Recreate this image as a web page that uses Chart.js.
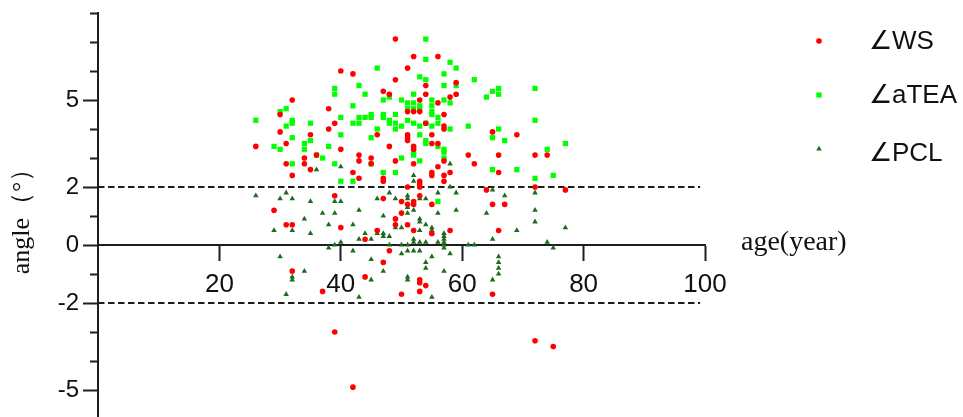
<!DOCTYPE html>
<html>
<head>
<meta charset="utf-8">
<script src="https://cdn.jsdelivr.net/npm/chart.js@4.4.0/dist/chart.umd.min.js"></script>
<style>
html,body{margin:0;padding:0;background:#ffffff;}
#wrap{width:963px;height:417px;position:relative;}
</style>
</head>
<body>
<div id="wrap"><canvas id="c" width="963" height="417"></canvas></div>
<script>
// ---------------- data ----------------
const seriesNames = ['∠WS', '∠aTEA', '∠PCL'];
const xAxisLabel = 'age(year)';
const yAxisLabel = 'angle（°）';

const wsAge = [49,40,42,49,47,48,32,30,38,39,38,46,30,35,26,31,48,40,36,34,43,45,31,34,43,45,49,35,32,42,43,47,47,
  52,56,51,59,59,54,54,53,51,52,53,56,58,57,54,57,57,51,51,51,55,65,69,52,52,55,56,52,56,57,61,62,66,72,74,55,55,57,58,66,57,53,53,51,64,72,77,
  39,47,29,31,32,40,44,46,49,49,48,32,44,37,53,50,52,52,51,55,65,67,51,52,55,58,66,50,53,53,54,53,50,65,53,47,39,42,72,75];
const wsAngle = [7.1,6.0,5.9,5.7,5.3,5.2,5.0,4.5,4.7,4.2,4.0,3.8,3.9,3.8,3.4,3.5,3.4,3.3,3.1,3.0,3.1,3.0,2.8,2.8,2.9,2.8,2.9,2.6,2.4,2.5,2.3,2.3,2.2,
  6.5,6.5,6.1,5.6,5.2,5.5,5.2,5.0,4.6,4.6,4.6,4.9,5.1,4.5,4.2,4.1,4.0,3.8,3.7,3.6,3.8,3.9,3.8,3.4,3.3,3.5,3.5,2.8,2.7,2.9,3.1,2.8,3.1,3.1,3.1,2.5,2.4,2.4,2.5,2.5,2.2,2.2,2.1,2.0,1.9,2.0,1.9,
  1.7,1.6,1.2,0.7,0.7,0.6,0.2,0.5,0.9,0.7,-0.2,-0.9,-1.1,-1.6,1.7,1.5,1.5,1.4,1.4,1.4,1.4,1.4,0.7,0.5,0.4,0.5,0.5,1.1,-1.2,-1.3,-1.4,-1.6,-1.7,-1.7,2.0,-0.6,-3.0,-4.9,-3.3,-3.5];

const ateaAge = [46,39,39,43,44,47,48,31,30,42,26,32,32,31,35,40,42,43,43,44,45,45,47,47,48,48,49,49,49,32,35,34,34,40,45,46,29,30,38,37,36,32,39,45,47,49,40,42,
  54,54,58,59,53,54,57,57,59,62,64,65,66,66,72,50,51,51,52,52,52,53,53,55,55,55,55,57,58,56,56,50,51,52,53,54,55,58,61,66,72,65,67,53,54,54,56,57,57,57,52,52,50,53,77,74,65,69,72,75,56];
const ateaAngle = [6.1,5.4,5.2,5.5,5.2,5.0,5.1,4.7,4.6,4.8,4.3,4.3,4.2,4.1,4.2,4.4,4.2,4.4,4.2,4.4,4.5,4.4,4.5,4.4,4.3,4.2,4.5,4.2,4.0,3.7,3.6,3.5,3.3,3.8,3.7,4.0,3.4,3.3,3.4,3.0,3.1,2.8,2.8,2.8,2.5,2.5,2.2,2.2,
  7.1,6.4,6.3,6.1,5.8,5.7,5.9,5.5,5.5,5.7,5.1,5.3,5.4,5.2,5.4,5.0,4.9,4.7,5.2,4.9,4.7,4.8,4.7,5.0,4.8,4.6,4.5,5.0,4.9,4.4,4.2,4.1,4.3,4.2,4.1,4.2,4.1,4.0,4.1,4.0,4.3,3.7,3.6,3.8,3.6,3.5,3.4,3.3,3.2,3.0,3.2,3.1,3.0,2.9,3.5,3.3,2.6,2.6,2.3,2.4,1.5];

const pclAge = [36,40,58,52,52,
  26,30,31,32,35,39,40,46,48,49,43,37,39,47,34,38,42,29,32,35,44,43,45,46,47,47,48,38,39,40,42,48,30,45,34,32,32,45,47,31,43,
  58,59,65,72,67,51,51,53,54,56,51,52,56,59,64,72,72,53,53,50,54,55,55,55,53,69,77,51,57,57,57,57,57,57,54,52,56,50,51,52,53,61,62,65,74,75,50,51,52,53,55,58,54,54,51,51,57,55,66,66,66,66,65,49];
const pclAngle = [2.6,2.7,2.8,2.4,2.2,
  1.7,1.6,1.8,1.6,1.5,1.5,1.5,1.6,1.8,1.6,1.2,1.1,1.1,1.0,0.9,0.7,0.7,0.5,0.5,0.4,0.4,0.2,0.2,0.4,0.4,0.3,0.3,-0.1,0.0,0.1,-0.2,0.0,-0.4,-0.5,-0.9,-1.1,-1.2,-1.2,-0.9,-1.7,-1.8,
  2.0,1.8,1.9,1.8,1.7,1.7,1.6,1.6,1.6,1.8,1.3,1.2,1.1,1.2,1.1,1.2,0.8,0.9,0.8,0.6,0.7,0.6,0.5,0.4,0.5,0.5,0.6,1.1,0.4,0.3,0.2,0.1,0.0,-0.1,0.1,0.2,0.1,0.0,0.0,0.1,0.1,0.0,0.0,0.2,0.1,-0.1,-0.3,-0.2,-0.2,-0.2,-0.4,-0.3,-0.6,-0.8,-1.1,-1.2,-0.9,-1.8,-0.4,-0.6,-0.8,-1.0,-1.2,0.6];

const xTicks = [20, 40, 60, 80, 100];
const yLabeledTicks = [5, 2, 0, -2, -5];
const yMinorTicks = [8, 7, 6, 4, 3, 1, -1, -3, -4];
const refLevels = [2, -2];
const refStart = 0, refEnd = 99.2;
const xMin = 0, xMax = 100, yMin = -5.93, yMax = 8;

// ---------------- chart ----------------
const pts = (xs, ys) => xs.map((x, i) => ({x: x, y: ys[i]}));
const axisColor = '#1e1e1e';

const datasets = [
  {label: seriesNames[0], data: pts(wsAge, wsAngle), pointStyle: 'circle', pointRadius: 2.8, backgroundColor: '#ff0000', borderWidth: 0, legendRow: 0},
  {label: seriesNames[1], data: pts(ateaAge, ateaAngle), pointStyle: 'rect', pointRadius: 3.7, backgroundColor: '#00ff00', borderWidth: 0, legendRow: 1},
  {label: seriesNames[2], data: pts(pclAge, pclAngle), pointStyle: 'triangle', pointRadius: 3.2, backgroundColor: '#1d6b1d', borderWidth: 0, legendRow: 2}
];
refLevels.forEach(l => datasets.push({
  label: 'ref' + l, data: [{x: refStart, y: l}, {x: refEnd, y: l}], showLine: true, pointRadius: 0,
  borderColor: axisColor, borderWidth: 2, borderDash: [6.5, 3.5], order: 10, fill: false
}));

const sideLegend = {
  id: 'sideLegend',
  afterDraw(chart, args, o) {
    const ctx = chart.ctx;
    ctx.save();
    chart.data.datasets.forEach(ds => {
      if (ds.legendRow === undefined) return;
      const y = o.rowY[ds.legendRow];
      ctx.fillStyle = ds.backgroundColor;
      ctx.strokeStyle = ds.backgroundColor;
      Chart.helpers.drawPoint(ctx, {pointStyle: ds.pointStyle, radius: ds.pointRadius, rotation: 0, borderWidth: 0}, o.markerX, y);
      ctx.fillStyle = '#111';
      ctx.font = o.font;
      ctx.textAlign = 'left';
      ctx.textBaseline = 'middle';
      ctx.fillText(ds.label, o.textX, y + o.textDy[ds.legendRow]);
    });
    // x-axis name, right of the axis end
    const ya = chart.scales.y.getPixelForValue(0);
    ctx.fillStyle = '#111';
    ctx.font = o.axisFont;
    ctx.textAlign = 'left';
    ctx.textBaseline = 'middle';
    ctx.fillText(xAxisLabel, chart.chartArea.right + o.axisDx, ya + o.axisDy);
    ctx.restore();
  }
};

new Chart(document.getElementById('c'), {
  type: 'scatter',
  data: {datasets: datasets},
  plugins: [sideLegend],
  options: {
    responsive: false,
    animation: false,
    layout: {autoPadding: false, padding: {top: 13, right: 258, bottom: 0, left: 0}},
    plugins: {
      legend: {display: false},
      tooltip: {enabled: false},
      sideLegend: {markerX: 819, textX: 869, rowY: [41, 95, 149], textDy: [1, 1, 5],
        font: '26px "Liberation Sans", Arial, sans-serif',
        axisFont: '28px "Liberation Serif", "Times New Roman", serif', axisDx: 36, axisDy: -2}
    },
    scales: {
      x: {
        type: 'linear', position: {y: 0}, min: xMin, max: xMax,
        afterBuildTicks: s => { s.ticks = xTicks.map(v => ({value: v})); },
        afterFit: s => { s.height = 0; s.paddingLeft = 0; s.paddingRight = 0; },
        ticks: {color: '#111', padding: 9, maxRotation: 0, autoSkip: false,
          font: {family: '"Liberation Sans", Arial, sans-serif', size: 26}},
        grid: {drawOnChartArea: false, drawTicks: true, tickLength: 15, tickWidth: 2, tickColor: axisColor},
        border: {display: true, width: 2, color: axisColor}
      },
      y: {
        type: 'linear', position: 'left', min: yMin, max: yMax,
        afterBuildTicks: s => { s.ticks = yLabeledTicks.map(v => ({value: v})); },
        afterFit: s => { s.width = 98; s.paddingTop = 0; s.paddingBottom = 0; },
        ticks: {color: '#111', padding: 4, autoSkip: false, callback: v => String(v),
          font: {family: '"Liberation Sans", Arial, sans-serif', size: 24}},
        grid: {drawOnChartArea: false, drawTicks: true, tickLength: 15, tickWidth: 2, tickColor: axisColor},
        border: {display: true, width: 2, color: axisColor},
        title: {display: true, text: yAxisLabel, color: '#111', padding: {top: 7, bottom: 0},
          font: {family: '"Liberation Serif", "Times New Roman", serif', size: 26}}
      },
      yMinor: {
        type: 'linear', axis: 'y', position: {x: 0}, min: yMin, max: yMax,
        afterBuildTicks: s => { s.ticks = yMinorTicks.map(v => ({value: v})); },
        afterFit: s => { s.width = 0; s.paddingTop = 0; s.paddingBottom = 0; },
        ticks: {display: false},
        grid: {drawOnChartArea: false, drawTicks: true, tickLength: 8, tickWidth: 2, tickColor: axisColor},
        border: {display: false}
      }
    }
  }
});
</script>
</body>
</html>
